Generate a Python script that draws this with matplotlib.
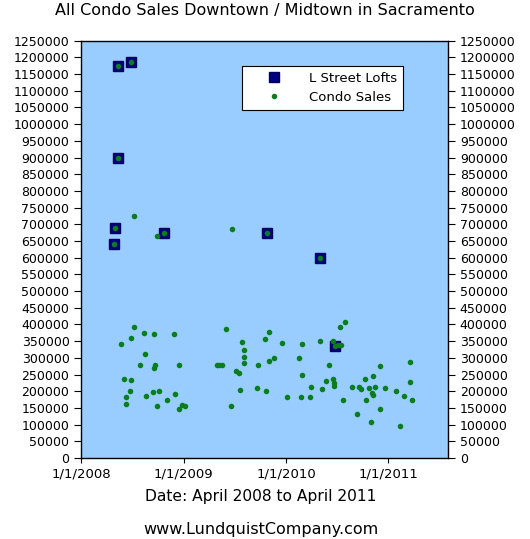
import matplotlib
matplotlib.use("Agg")
import matplotlib.pyplot as plt
import matplotlib.dates as mdates
import numpy as np
from matplotlib.ticker import FuncFormatter

# L Street Lofts sales (date, price)
lofts_dates = ['2008-04-28', '2008-05-01', '2008-05-13', '2008-05-13', '2008-06-26',
               '2008-10-22', '2009-10-27', '2010-05-01', '2010-06-26']
lofts_prices = [640000, 690000, 1175000, 900000, 1185000,
                675000, 675000, 600000, 335000]

# all condo sales downtown / midtown
condo_dates = [
    '2008-04-28', '2008-05-01', '2008-05-13', '2008-05-13', '2008-06-26',
    '2008-10-22', '2009-10-27', '2010-05-01', '2010-06-26',
    '2008-07-08', '2008-09-27', '2009-06-22',
    '2008-07-08', '2008-06-26', '2008-08-11', '2008-09-19', '2008-11-26',
    '2008-05-22', '2008-08-17', '2008-07-28', '2008-09-20', '2008-09-17',
    '2008-12-16', '2008-06-01', '2008-06-29', '2008-06-23', '2008-06-10',
    '2008-06-09', '2008-08-19', '2008-09-15', '2008-10-06', '2008-09-27',
    '2008-11-03', '2008-12-01', '2008-12-26', '2008-12-14', '2009-01-07',
    '2009-06-02', '2009-07-27', '2009-08-04', '2009-08-03', '2009-08-04',
    '2009-04-30', '2009-05-08', '2009-05-18', '2009-07-06', '2009-07-16',
    '2009-07-21', '2009-06-18', '2009-09-22', '2009-09-21',
    '2009-10-18', '2009-11-01', '2009-10-23', '2009-11-01', '2009-11-20',
    '2009-12-17', '2010-01-06', '2010-02-16', '2010-02-28', '2010-02-28',
    '2010-02-22', '2010-03-27', '2010-03-31', '2010-05-04', '2010-05-10',
    '2010-05-24', '2010-06-02', '2010-06-16', '2010-06-16', '2010-06-23',
    '2010-06-23', '2010-07-04', '2010-07-15', '2010-07-11', '2010-07-31',
    '2010-07-23', '2010-08-23', '2010-09-12', '2010-09-20', '2010-09-26',
    '2010-10-09', '2010-10-15', '2010-10-25', '2010-11-02', '2010-11-03',
    '2010-11-07', '2010-11-08', '2010-11-15', '2010-12-01', '2010-12-03',
    '2010-12-22', '2011-01-29', '2011-02-12', '2011-02-26', '2011-03-18',
    '2011-03-18', '2011-03-27']
condo_prices = [
    640000, 690000, 1175000, 900000, 1185000,
    675000, 675000, 600000, 335000,
    725000, 665000, 685000,
    392000, 360000, 375000, 370000, 370000,
    342000, 311000, 279000, 278000, 269000,
    279000, 237000, 234000, 201000, 184000,
    162000, 186000, 198000, 201000, 157000,
    174000, 191000, 160000, 146000, 155000,
    387000, 346000, 324000, 302000, 286000,
    279000, 279000, 279000, 261000, 256000,
    205000, 155000, 279000, 210000,
    356000, 376000, 201000, 291000, 301000,
    344000, 182000, 299000, 342000, 249000,
    182000, 182000, 213000, 349000, 206000,
    230000, 280000, 351000, 237000, 225000,
    215000, 338000, 337000, 392000, 408000,
    175000, 212000, 131000, 214000, 207000,
    236000, 175000, 210000, 107000, 196000,
    190000, 246000, 213000, 146000, 275000,
    209000, 201000, 96000, 186000, 289000,
    229000, 175000]

tick_dates = ['2008-01-01', '2009-01-01', '2010-01-01', '2011-01-01']
tick_labels = ['1/1/2008', '1/1/2009', '1/1/2010', '1/1/2011']

fig = plt.figure(figsize=(5.3, 5.39), dpi=100)
ax = fig.add_axes([81 / 530, 1 - 458 / 539, 367.3 / 530, 417.3 / 539])
ax.set_facecolor('#99ccff')

ld = mdates.datestr2num(lofts_dates)
cd = mdates.datestr2num(condo_dates)

ax.plot(ld, lofts_prices, 's', color='#000080', markeredgecolor='#00005a',
        markeredgewidth=1, markersize=6.5, label='L Street Lofts', zorder=3)
ax.plot(cd, condo_prices, 'o', color='#0a7d1e', markeredgewidth=0,
        markersize=4, label='Condo Sales', zorder=4)

ax.set_xlim(mdates.datestr2num('2008-01-01'), mdates.datestr2num('2011-08-03'))
ax.set_ylim(0, 1250000)
ax.set_xticks(mdates.datestr2num(tick_dates))
ax.set_xticklabels(tick_labels)
ax.set_yticks(np.arange(0, 1250001, 50000))
ax.yaxis.set_major_formatter(FuncFormatter(lambda v, p: '%d' % v))

ax.tick_params(axis='y', which='both', left=True, right=True, labelleft=True,
               labelright=True, direction='out', length=4.8, width=0.8,
               pad=3.5, labelsize=9, colors='black')
ax.tick_params(axis='x', direction='out', length=3.6, width=0.8, pad=3,
               labelsize=9.5)
for s in ax.spines.values():
    s.set_linewidth(1)
    s.set_color('black')

leg = ax.legend(loc='upper left', bbox_to_anchor=(0.437, 0.939),
                borderaxespad=0, fancybox=False, framealpha=1,
                edgecolor='black', fontsize=9.5, handletextpad=0.55,
                borderpad=0.45, labelspacing=0.45, handlelength=4.1)
leg.get_frame().set_linewidth(0.8)

fig.text(0.5, 1 - 10 / 539, 'All Condo Sales Downtown / Midtown in Sacramento',
         ha='center', va='center', fontsize=11.5)
fig.text(260.5 / 530, 1 - 496.7 / 539, 'Date: April 2008 to April 2011',
         ha='center', va='center', fontsize=11.2)
fig.text(260.5 / 530, 1 - 529.3 / 539, 'www.LundquistCompany.com',
         ha='center', va='center', fontsize=11.5)

fig.savefig('out.png', dpi=100)
